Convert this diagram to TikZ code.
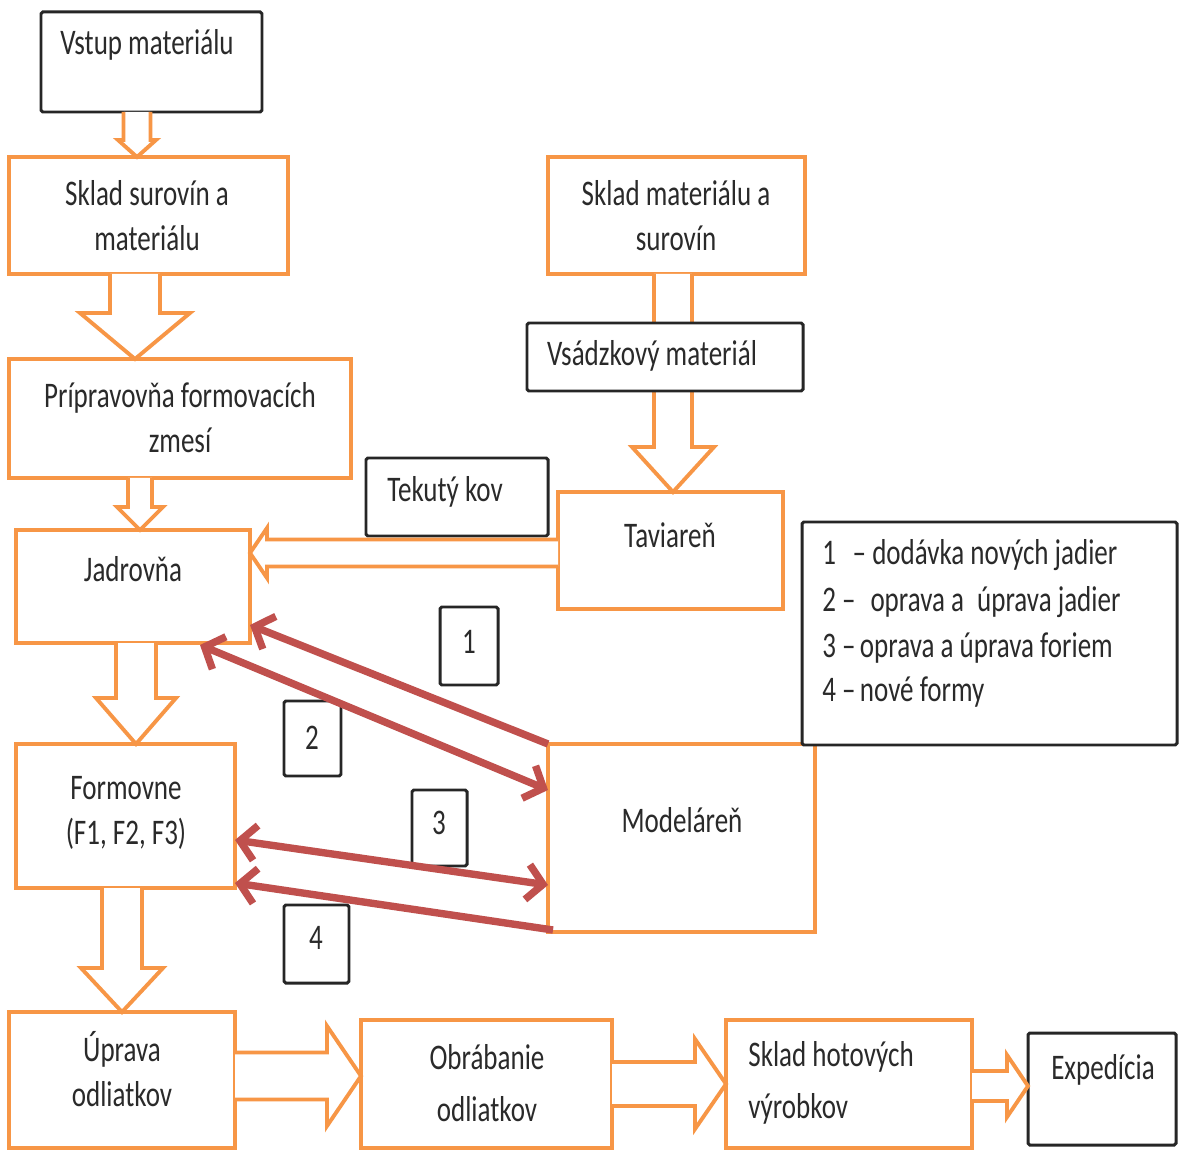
\documentclass[tikz,border=0pt]{standalone}
\usepackage{fontspec}
\setmainfont{Carlito}[FakeStretch=0.75]
\usetikzlibrary{arrows.meta,calc}
\definecolor{org}{HTML}{F79646}
\definecolor{redar}{HTML}{C0504D}
\definecolor{txtc}{HTML}{2A2A2A}
\def\pxu{0.569055pt}
\newcommand\bx[6]{\pgfmathsetmacro\bxw{(#4-#2)*0.02}\pgfmathsetmacro\bxh{(#5-#3)*0.02}%
  \node[#6,minimum width=\bxw cm,minimum height=\bxh cm] (#1) at ({(#2+#4)/2},{(#3+#5)/2}) {};}
% block arrow down: src, dst, dx(px), half shaft, half head, head length
\newcommand\blkdown[6]{\draw[barrow] let \p1=($(#1.south)+(#3,0)$), \p2=(#2.north) in
  ({\x1-#4*\pxu},\y1) -- ({\x1-#4*\pxu},{\y2+#6*\pxu}) -- ({\x1-#5*\pxu},{\y2+#6*\pxu}) -- (\x1,\y2)
  -- ({\x1+#5*\pxu},{\y2+#6*\pxu}) -- ({\x1+#4*\pxu},{\y2+#6*\pxu}) -- ({\x1+#4*\pxu},\y1);}
\newcommand\blkright[6]{\draw[barrow] let \p1=($(#1.east)+(0,#3)$), \p2=(#2.west) in
  (\x1,{\y1+#4*\pxu}) -- ({\x2-#6*\pxu},{\y1+#4*\pxu}) -- ({\x2-#6*\pxu},{\y1+#5*\pxu}) -- (\x2,\y1)
  -- ({\x2-#6*\pxu},{\y1-#5*\pxu}) -- ({\x2-#6*\pxu},{\y1-#4*\pxu}) -- (\x1,{\y1-#4*\pxu});}
\newcommand\blkleft[6]{\draw[barrow] let \p1=($(#1.west)+(0,#3)$), \p2=(#2.east) in
  (\x1,{\y1+#4*\pxu}) -- ({\x2+#6*\pxu},{\y1+#4*\pxu}) -- ({\x2+#6*\pxu},{\y1+#5*\pxu}) -- (\x2,\y1)
  -- ({\x2+#6*\pxu},{\y1-#5*\pxu}) -- ({\x2+#6*\pxu},{\y1-#4*\pxu}) -- (\x1,{\y1-#4*\pxu});}
\begin{document}
\begin{tikzpicture}[x=0.02cm,y=-0.02cm,
  obox/.style={draw=org,line width=2.8pt,fill=white,inner sep=0pt,outer sep=0pt},
  bbox/.style={draw=black!85,line width=1.7pt,fill=white,rounded corners=1pt,inner sep=0pt,outer sep=0pt},
  barrow/.style={draw=org,line width=2.2pt,fill=white,line join=miter},
  rarrow/.style={draw=redar,line width=4.2pt,>={Straight Barb[length=9pt,width=20pt]}},
  tx/.style={font=\fontsize{20.5}{25.6}\selectfont,text=txtc,inner sep=0pt,align=center},
  lg/.style={font=\fontsize{20.5}{25.6}\selectfont,text=txtc,inner sep=0pt,anchor=west}]
\useasboundingbox (0,0) rectangle (1179,1151);
\fill[white] (0,0) rectangle (1179,1151);
% boxes
\bx{vstup}{41}{12}{262}{112}{bbox}
\bx{skladsur}{9}{157}{288}{274}{obox}
\bx{prip}{9}{359}{351}{478}{obox}
\bx{jadr}{16}{530}{250}{643}{obox}
\bx{form}{16}{744}{235}{888}{obox}
\bx{uprava}{9}{1012}{235}{1148}{obox}
\bx{obr}{361}{1020}{612}{1148}{obox}
\bx{skladhot}{726}{1020}{972}{1148}{obox}
\bx{exped}{1028}{1033}{1176}{1145}{bbox}
\bx{skladmat}{548}{157}{805}{274}{obox}
\bx{tekuty}{366}{458}{548}{536}{bbox}
\bx{tav}{558}{492}{783}{609}{obox}
\bx{model}{548}{744}{815}{932}{obox}
\bx{legend}{802}{522}{1177}{745}{bbox}
\bx{n1}{440}{607}{498}{685}{bbox}
\bx{n2}{284}{701}{341}{776}{bbox}
\bx{n3}{412}{790}{467}{866}{bbox}
\bx{n4}{284}{905}{349}{983}{bbox}
% block arrows
\blkdown{vstup}{skladsur}{-14.5}{13.5}{19}{17}
\blkdown{skladsur}{prip}{-13.5}{25}{55}{46}
\blkdown{prip}{jadr}{-40}{12}{23}{23}
\blkdown{jadr}{form}{3}{20}{40}{46}
\blkdown{form}{uprava}{-3.5}{20}{41}{44}
\blkdown{skladmat}{tav}{-3.5}{19}{41}{45}
\blkleft{tav}{jadr}{2.5}{13.5}{25}{17}
\blkright{uprava}{obr}{-4}{23.5}{50}{34}
\blkright{skladhot}{exped}{2}{15}{31}{21}
\blkright{obr}{skladhot}{0}{22}{45}{31}
% box over the arrow
\bx{vsad}{527}{323}{803}{391}{bbox}
% red arrows
\draw[rarrow,->] (model.north west) -- ($(jadr.south east)+(0,-18)$);
\draw[rarrow,<->] ($(jadr.south)+(67,2)$) -- ($(model.west)+(0,-48)$);
\draw[rarrow,<->] ($(form.east)+(0,24)$) -- ($(model.west)+(0,47)$);
\draw[rarrow,->] ($(model.south west)+(5,-2)$) -- ($(form.south east)+(0,-5)$);
% texts
\node[tx] (t-vstup) at (147,45) {Vstup materiálu};
\node[tx] (t-skladsur) at (147,216) {Sklad surovín a\\materiálu};
\node[tx] (t-prip) at (180,418) {Prípravovňa formovacích\\zmesí};
\node[tx] (t-jadr) at (133,569) {Jadrovňa};
\node[tx] (t-form) at (126,813) {Formovne\\(F1, F2, F3)};
\node[tx] (t-uprava) at (122,1069) {Úprava\\odliatkov};
\node[tx] (t-obr) at (487,1083) {Obrábanie\\[4pt]odliatkov};
\node[tx,align=left,anchor=west] (t-skladhot) at (748,1083) {Sklad hotových\\[4pt]výrobkov};
\node[tx] (t-exped) at (1103,1070) {Expedícia};
\node[tx] (t-skladmat) at (676,216) {Sklad materiálu a\\surovín};
\node[tx] (t-vsad) at (652,356) {Vsádzkový materiál};
\node[tx] (t-tekuty) at (445,492) {Tekutý kov};
\node[tx] (t-tav) at (670,535) {Taviareň};
\node[tx] (t-model) at (682,820) {Modeláreň};
\node[tx] (t-n1) at (469,642) {1};
\node[tx] (t-n2) at (312,738) {2};
\node[tx] (t-n3) at (439,823) {3};
\node[tx] (t-n4) at (316,938) {4};
\node[lg] (l1) at (822,555) {1\hspace{6pt} – dodávka nových jadier};
\node[lg] (l2) at (822,602) {2 –\hspace{5pt} oprava a\hspace{4pt} úprava jadier};
\node[lg] (l3) at (822,648) {3 –\hspace{-1pt} oprava a úprava foriem};
\node[lg] (l4) at (822,692) {4 –\hspace{-1pt} nové formy};
\end{tikzpicture}
\end{document}
